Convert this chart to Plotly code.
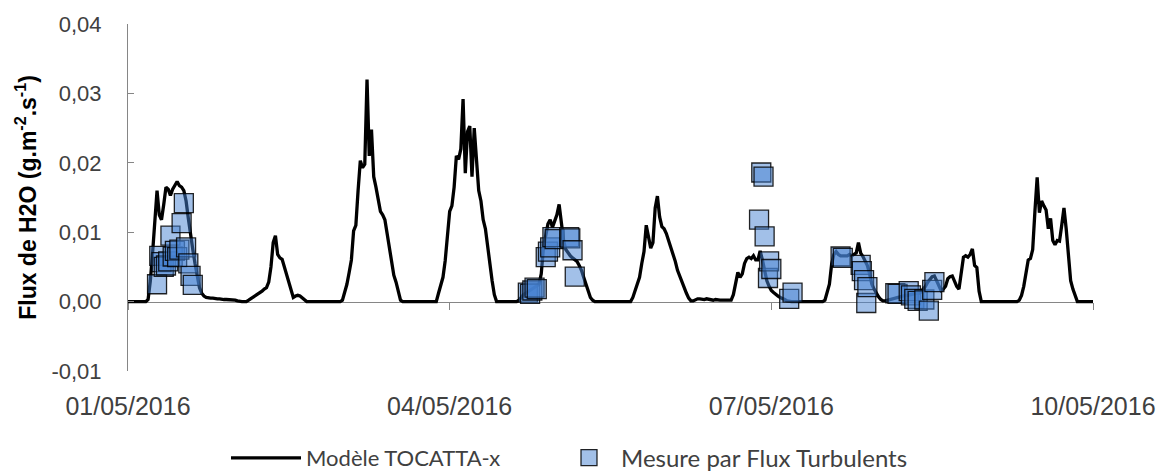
import pandas as pd
import plotly.graph_objects as go

# Model output, half-hourly values per day (g.m-2.s-1), starting at 00:00
model_d1 = [0, 0, 0, 0, 0, 0, 0, 0, 0, 0.0003, 0.003, 0.007, 0.011, 0.016, 0.0125, 0.0118,
            0.014, 0.0165, 0.0162, 0.0153, 0.0162, 0.0168, 0.0173, 0.0167, 0.0165, 0.016,
            0.0145, 0.012, 0.0095, 0.0075, 0.0055, 0.0035, 0.002, 0.0012, 0.0008, 0.0006,
            0.0005, 0.0005, 0.0005, 0.0004, 0.0004, 0.0004, 0.0003, 0.0003, 0.0003, 0.0003,
            0.0003, 0.0002]
model_d2 = [0.0002, 0.0001, 0, 0, 0, 0, 0.0002, 0.0004, 0.0006, 0.0008, 0.001, 0.0013,
            0.0015, 0.0018, 0.002, 0.0028, 0.005, 0.0085, 0.0095, 0.0068, 0.0063, 0.0061,
            0.005, 0.004, 0.0028, 0.0015, 0.0006, 0.0008, 0.0009, 0.0008, 0.0005, 0.0002,
            0, 0, 0, 0, 0, 0, 0, 0, 0, 0, 0, 0, 0, 0, 0, 0]
model_d3 = [0.0002, 0.0012, 0.0025, 0.0042, 0.006, 0.0102, 0.011, 0.016, 0.0203, 0.0193,
            0.0198, 0.032, 0.021, 0.0248, 0.018, 0.0165, 0.0148, 0.013, 0.0125, 0.0118,
            0.0098, 0.008, 0.006, 0.0038, 0.0028, 0.0012, 0.0002,
            0, 0, 0, 0, 0, 0, 0, 0, 0, 0, 0, 0, 0, 0, 0, 0,
            0.0012, 0.0022, 0.0035, 0.0059, 0.0095]
model_d4 = [0.013, 0.0138, 0.0165, 0.021, 0.0205, 0.022, 0.0292, 0.0185, 0.0245, 0.0253,
            0.018, 0.025, 0.0205, 0.016, 0.0145, 0.0118, 0.0105, 0.0075, 0.0055, 0.003,
            0.001, 0, 0, 0, 0, 0, 0, 0, 0, 0, 0,
            0.0002, 0.0006, 0.001, 0.0012, 0.0014, 0.0016, 0.0018, 0.002, 0.0022, 0.0025,
            0.004, 0.0078, 0.0095, 0.0112, 0.0118, 0.0107, 0.0116]
model_d5 = [0.0125, 0.014, 0.011, 0.0088, 0.0075, 0.007, 0.0066, 0.0063, 0.006, 0.0058,
            0.0052, 0.0045, 0.0035, 0.0024, 0.0014, 0.0006, 0.0002,
            0, 0, 0, 0, 0, 0, 0, 0, 0, 0, 0, 0, 0, 0, 0, 0, 0,
            0.0006, 0.0015, 0.0023, 0.0035, 0.0055, 0.0072, 0.011, 0.0095, 0.0077, 0.0085,
            0.0135, 0.0152, 0.0122, 0.0108]
model_d6 = [0.0105, 0.0098, 0.0088, 0.008, 0.0071, 0.0058, 0.0045, 0.0036, 0.003, 0.002,
            0.0012, 0.0005, 0.0001, 0.0001, 0.0003, 0.0004, 0.0004, 0.0003, 0.0003, 0.0004,
            0.0003, 0.0002, 0.0002, 0.0003, 0.0002, 0.0002, 0.0002, 0.0002, 0.0002, 0.0002,
            0.0002, 0.001, 0.0028, 0.0042, 0.0035, 0.004, 0.0055, 0.0062, 0.0064, 0.0062,
            0.0066, 0.006, 0.006, 0.0073, 0.006, 0.0045, 0.003, 0.0022]
model_d7 = [0.0016, 0.0013, 0.001, 0.0008, 0.0006, 0.0005, 0.0003, 0.0001,
            0, 0, 0, 0, 0, 0, 0, 0, 0, 0, 0, 0, 0, 0, 0, 0,
            0.0002, 0.0015, 0.0025, 0.0054, 0.0068, 0.0072, 0.0068, 0.0066, 0.0066, 0.0067,
            0.0066, 0.0068, 0.0066, 0.0068, 0.007, 0.0085, 0.007, 0.0065, 0.0058, 0.0052,
            0.004, 0.0025, 0.0018, 0.0012]
model_d8 = [0.0007, 0.0003, 0.0001, 0.0001, 0.0002, 0.0003, 0.0004, 0.0005, 0.0006, 0.0007,
            0.0008, 0.0008, 0.0009, 0.0009, 0.001, 0.001, 0.0011, 0.0012, 0.0012, 0.0014,
            0.0018, 0.0022, 0.0028, 0.0033, 0.0036, 0.0037, 0.003, 0.0022, 0.0016, 0.0018,
            0.0022, 0.0033, 0.0036, 0.0037, 0.0028, 0.0022, 0.0018, 0.0045, 0.0064, 0.0066,
            0.0064, 0.0068, 0.0076, 0.0052, 0.0049, 0.0015, 0, 0]
model_d9 = [0, 0, 0, 0, 0, 0, 0, 0, 0, 0, 0, 0, 0, 0, 0,
            0.0002, 0.0009, 0.0022, 0.0045, 0.006, 0.0062, 0.0075, 0.013, 0.0179, 0.0128,
            0.0145, 0.0138, 0.0132, 0.0105, 0.012, 0.0088, 0.0082, 0.0088, 0.0087, 0.011,
            0.0135, 0.0105, 0.006, 0.003, 0.0018, 0.0008, 0, 0, 0, 0, 0, 0, 0]
model_d10 = [0]

model_days = ["2016-05-01", "2016-05-02", "2016-05-03", "2016-05-04", "2016-05-05",
              "2016-05-06", "2016-05-07", "2016-05-08", "2016-05-09", "2016-05-10"]
model_values = [model_d1, model_d2, model_d3, model_d4, model_d5,
                model_d6, model_d7, model_d8, model_d9, model_d10]

# Eddy-covariance measurements
meas_time = [
    "2016-05-01 06:30", "2016-05-01 07:00", "2016-05-01 07:30", "2016-05-01 08:00",
    "2016-05-01 08:30", "2016-05-01 09:00", "2016-05-01 09:30", "2016-05-01 10:00",
    "2016-05-01 10:30", "2016-05-01 11:00", "2016-05-01 11:30", "2016-05-01 12:00",
    "2016-05-01 12:30", "2016-05-01 13:00", "2016-05-01 13:30", "2016-05-01 14:00",
    "2016-05-01 14:30",
    "2016-05-04 17:30", "2016-05-04 18:00", "2016-05-04 18:30", "2016-05-04 19:00",
    "2016-05-04 19:30", "2016-05-04 21:30", "2016-05-04 22:00", "2016-05-04 22:30",
    "2016-05-04 23:00", "2016-05-04 23:30", "2016-05-05 02:45", "2016-05-05 03:00",
    "2016-05-05 03:30", "2016-05-05 04:00",
    "2016-05-06 21:15", "2016-05-06 21:45", "2016-05-06 22:15", "2016-05-06 22:30",
    "2016-05-06 23:15", "2016-05-06 23:30", "2016-05-07 00:00", "2016-05-07 04:00",
    "2016-05-07 04:45",
    "2016-05-07 15:30", "2016-05-07 16:00", "2016-05-07 20:00", "2016-05-07 20:15",
    "2016-05-07 20:45", "2016-05-07 21:15", "2016-05-07 21:30",
    "2016-05-08 03:45", "2016-05-08 04:15", "2016-05-08 06:45", "2016-05-08 07:15",
    "2016-05-08 08:00", "2016-05-08 08:45", "2016-05-08 10:15", "2016-05-08 11:15",
    "2016-05-08 12:00", "2016-05-08 12:30",
]
meas_value = [
    0.0025, 0.0066, 0.0057, 0.0050, 0.0052, 0.0058, 0.0095, 0.0065, 0.0073, 0.0064,
    0.0075, 0.0113, 0.0142, 0.0078, 0.0055, 0.0037, 0.0024,
    0.0013, 0.0011, 0.0016, 0.0020, 0.0018, 0.0064, 0.0072, 0.0078, 0.0093, 0.0090,
    0.0093, 0.0091, 0.0074, 0.0036,
    0.0118, 0.0186, 0.0180, 0.0094, 0.0034, 0.0058, 0.0047, 0.0004, 0.0013,
    0.0065, 0.0063, 0.0053, 0.0044, 0.0031, -0.0002, 0.0021,
    0.0012, 0.0011, 0.0015, 0.0009, 0.0004, 0.0001, 0.0003, -0.0013, 0.0017, 0.0028,
]

tick_dates = ["2016-05-01", "2016-05-04", "2016-05-07", "2016-05-10"]
y_tickvals = [-0.01, 0.0, 0.01, 0.02, 0.03, 0.04]
y_ticktext = ["-0,01", "0,00", "0,01", "0,02", "0,03", "0,04"]
x_range = ["2016-05-01", "2016-05-10"]
y_range = [-0.01, 0.04]

# Assemble the half-hourly model series
model_t, model_v = [], []
for day, vals in zip(model_days, model_values):
    t = pd.date_range(day, periods=len(vals), freq="30min")
    model_t.extend(t)
    model_v.extend(vals)

FONT = "Liberation Sans"
LEGEND_FONT = "Lato"
AXIS_GREY = "#868686"
TEXT_GREY = "#404040"
W, H = 1158, 473

fig = go.Figure()
fig.add_trace(go.Scatter(
    x=model_t, y=model_v, mode="lines", name="Modèle TOCATTA-x",
    line=dict(color="black", width=3.3), xaxis="x", legend="legend",
))
fig.add_trace(go.Scatter(
    x=pd.to_datetime(meas_time), y=meas_value, mode="markers",
    name="Mesure par Flux Turbulents", xaxis="x2", legend="legend2",
    marker=dict(symbol="square", size=19, color="rgba(70,130,210,0.5)",
                line=dict(color="rgba(0,0,0,0.85)", width=1.3)),
))

zero_pos = (0 - y_range[0]) / (y_range[1] - y_range[0])

fig.update_layout(
    width=W, height=H,
    margin=dict(l=128, r=65, t=24, b=102, autoexpand=False),
    paper_bgcolor="white", plot_bgcolor="white",
    separators=", ",
    font=dict(family=FONT, color=TEXT_GREY),
    showlegend=True,
    legend=dict(
        orientation="h", xref="container", yref="container",
        x=226 / W, xanchor="left", y=15 / H, yanchor="middle",
        font=dict(size=22, color=TEXT_GREY, family=LEGEND_FONT), itemwidth=70,
    ),
    legend2=dict(
        orientation="h", xref="container", yref="container",
        x=557 / W, xanchor="left", y=15 / H, yanchor="middle",
        font=dict(size=24, color=TEXT_GREY, family=LEGEND_FONT), itemwidth=54,
    ),
    xaxis=dict(
        type="date", range=x_range, tickvals=tick_dates, tickformat="%d/%m/%Y",
        showline=False, ticks="", showgrid=False, zeroline=False, automargin=False,
        tickfont=dict(size=25, color=TEXT_GREY), ticklabelstandoff=18,
    ),
    xaxis2=dict(
        type="date", range=x_range, tickvals=tick_dates, overlaying="x",
        anchor="free", position=zero_pos, matches="x",
        showline=True, linecolor=AXIS_GREY, linewidth=1,
        ticks="outside", ticklen=7, tickcolor=AXIS_GREY, tickwidth=1,
        showticklabels=False, showgrid=False, zeroline=False, layer="below traces",
    ),
    yaxis=dict(
        range=y_range, tickvals=y_tickvals, ticktext=y_ticktext,
        showline=True, linecolor=AXIS_GREY, linewidth=1,
        ticks="inside", ticklen=6, tickcolor=AXIS_GREY,
        showgrid=False, zeroline=False, automargin=False,
        tickfont=dict(size=22, color=TEXT_GREY), ticklabelstandoff=21,
        title=dict(text="<b>Flux de H2O (g.m<sup>-2</sup>.s<sup>-1</sup>)</b>",
                   font=dict(size=23, color="black", family=FONT), standoff=8),
    ),
)

fig.write_html("out.html")
